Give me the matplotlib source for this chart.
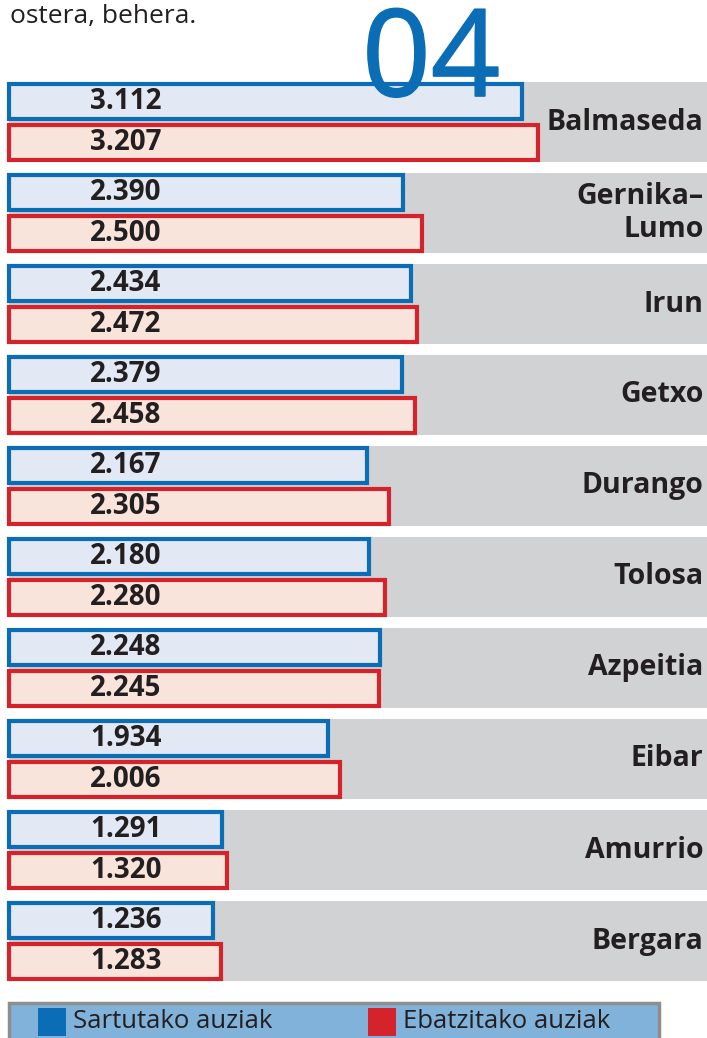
import matplotlib.pyplot as plt
import matplotlib.patheffects as pe
from matplotlib.patches import Rectangle

# data (cases, Basque thousand separator in labels)
towns = ["Balmaseda", "Gernika–\nLumo", "Irun", "Getxo", "Durango",
         "Tolosa", "Azpeitia", "Eibar", "Amurrio", "Bergara"]
sartutako = [3112, 2390, 2434, 2379, 2167, 2180, 2248, 1934, 1291, 1236]
ebatzitako = [3207, 2500, 2472, 2458, 2305, 2280, 2245, 2006, 1320, 1283]
legend_labels = ["Sartutako auziak", "Ebatzitako auziak"]

BLUE, BLUE_FILL = "#0a6db5", "#e2e8f4"
RED, RED_FILL = "#d5232b", "#f9e4dc"
GRAY = "#d1d2d4"
TXT = "#231f20"
FONT = "Open Sans"

W, H = 707, 1038
fig = plt.figure(figsize=(W / 100, H / 100), dpi=100)
fig.patch.set_facecolor("white")


def fx(px):
    return px / W


def fy(py):
    return 1 - py / H


ax_left, ax_right = 9, 707
ax = fig.add_axes([fx(ax_left), fy(986.5), fx(ax_right - ax_left), (986.5 - 76.5) / H])
ax.set_xlim(0, (ax_right - ax_left) / 0.165)
ax.set_ylim(len(towns) - 0.5, -0.5)
ax.axis("off")

ys = list(range(len(towns)))
for i in ys:
    ax.axhspan(i - 0.44, i + 0.44, xmin=0, xmax=1, color=GRAY, lw=0, zorder=0)

off, h = 0.225, 0.38
ax.barh([y - off for y in ys], sartutako, height=h, color=BLUE_FILL,
        edgecolor=BLUE, linewidth=3, zorder=2, clip_on=False)
ax.barh([y + off for y in ys], ebatzitako, height=h, color=RED_FILL,
        edgecolor=RED, linewidth=3, zorder=2, clip_on=False)

tr = ax.get_yaxis_transform()
vx = (126 - ax_left) / (ax_right - ax_left)
for i, (a, b) in enumerate(zip(sartutako, ebatzitako)):
    ax.text(vx, i - off, f"{a:,}".replace(",", "."), transform=tr, ha="center",
            va="center", fontsize=20, fontweight="bold", color=TXT,
            family=FONT, zorder=3)
    ax.text(vx, i + off, f"{b:,}".replace(",", "."), transform=tr, ha="center",
            va="center", fontsize=20, fontweight="bold", color=TXT,
            family=FONT, zorder=3)
    ax.text(0.995, i, towns[i], transform=tr, ha="right", va="center",
            fontsize=20.5, fontweight="bold", color=TXT, family=FONT,
            linespacing=1.2, zorder=3)

# header text and big number
fig.text(fx(10), fy(23), "ostera, behera.", fontsize=19, color=TXT,
         family=FONT, ha="left", va="baseline")
fig.text(fx(431), fy(96), "04", fontsize=87, color=BLUE, family=FONT,
         ha="center", va="baseline", zorder=10,
         path_effects=[pe.withStroke(linewidth=1.2, foreground=BLUE)])

# legend box
fig.patches.append(Rectangle((fx(9), fy(1040)), fx(650), (1040 - 1003) / H,
                             transform=fig.transFigure, facecolor="#80b2da",
                             edgecolor="#8e8e8e", linewidth=2.5))
for (x0, col, lab) in [(38, BLUE, legend_labels[0]), (368, RED, legend_labels[1])]:
    fig.patches.append(Rectangle((fx(x0), fy(1036)), fx(28), 28 / H,
                                 transform=fig.transFigure, facecolor=col,
                                 edgecolor="none"))
    fig.text(fx(x0 + 35), fy(1022), lab, fontsize=18.5, color=TXT, family=FONT,
             ha="left", va="center")

fig.savefig("out.png", dpi=100)
